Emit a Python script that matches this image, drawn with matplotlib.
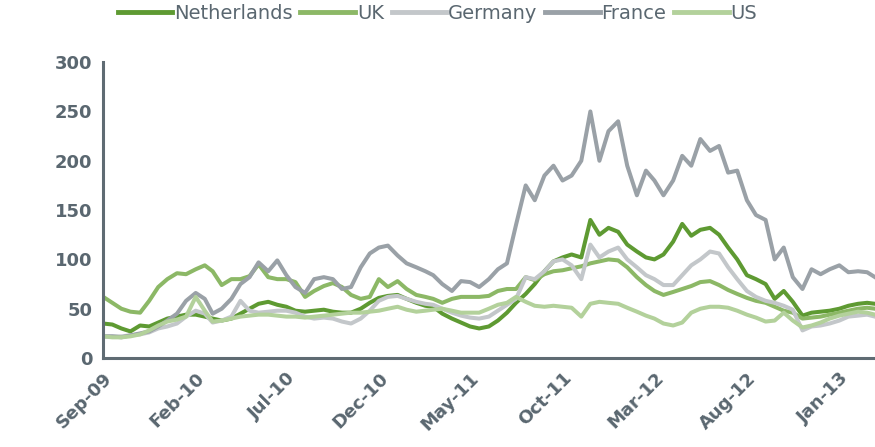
import datetime as dt
import matplotlib
matplotlib.use("Agg")
import matplotlib.pyplot as plt
import matplotlib.dates as mdates

# semi-monthly sample dates, Sep-09 .. Mar-13
dates = []
for i in range(42):
    y = 2009 + (8 + i) // 12
    m = (8 + i) % 12 + 1
    dates.append(dt.date(y, m, 1))
    dates.append(dt.date(y, m, 16))
dates.append(dt.date(2013, 3, 1))

netherlands = [35, 34, 30, 27, 33, 32, 36, 40, 42, 44, 44, 42, 40, 38, 40, 45, 50, 55, 57, 54,
               52, 48, 47, 48, 49, 47, 46, 46, 50, 56, 61, 63, 64, 60, 56, 53, 52, 45, 40, 36,
               32, 30, 32, 38, 46, 56, 65, 75, 88, 98, 102, 105, 102, 140, 125, 132, 128, 115, 108, 102,
               100, 105, 118, 136, 124, 130, 132, 125, 112, 100, 84, 80, 75, 60, 68, 57, 43, 46, 47, 48,
               50, 53, 55, 56, 55]
uk = [62, 56, 50, 47, 46, 58, 72, 80, 86, 85, 90, 94, 88, 74, 80, 80, 83, 95, 82, 80,
      80, 77, 62, 68, 73, 76, 72, 64, 60, 62, 80, 72, 78, 70, 64, 62, 60, 56, 60, 62,
      62, 62, 63, 68, 70, 70, 82, 79, 85, 88, 89, 91, 93, 96, 98, 100, 99, 92, 82, 74,
      68, 64, 67, 70, 73, 77, 78, 74, 69, 65, 61, 58, 56, 52, 48, 46, 40, 41, 42, 44,
      46, 48, 50, 51, 50]
germany = [22, 22, 22, 23, 24, 26, 30, 32, 35, 42, 48, 45, 36, 38, 42, 58, 48, 46, 47, 48,
           48, 46, 42, 40, 41, 40, 37, 35, 40, 48, 58, 62, 63, 60, 57, 55, 54, 50, 46, 43,
           41, 40, 42, 48, 54, 60, 82, 80, 88, 98, 100, 94, 80, 115, 102, 108, 112, 100, 92, 84,
           80, 74, 74, 84, 94, 100, 108, 106, 92, 80, 68, 62, 58, 56, 53, 49, 28, 32, 33, 35,
           38, 42, 43, 44, 42]
france = [22, 22, 21, 23, 25, 27, 32, 38, 45, 58, 66, 60, 45, 50, 60, 75, 82, 97, 88, 99,
          84, 72, 66, 80, 82, 80, 70, 72, 92, 106, 112, 114, 104, 96, 92, 88, 84, 75, 68, 78,
          77, 72, 80, 90, 96, 135, 175, 160, 185, 195, 180, 185, 200, 250, 200, 230, 240, 195, 165, 190,
          180, 165, 180, 205, 195, 222, 210, 215, 188, 190, 160, 145, 140, 100, 112, 82, 70, 90, 85, 90,
          94, 87, 88, 87, 82]
us = [22, 21, 21, 22, 24, 28, 33, 37, 39, 42, 62, 48, 37, 38, 40, 42, 43, 44, 44, 43,
      42, 42, 41, 42, 43, 44, 45, 46, 46, 47, 48, 50, 52, 49, 47, 48, 49, 50, 48, 46,
      46, 46, 50, 54, 56, 62, 57, 53, 52, 53, 52, 51, 42, 55, 57, 56, 55, 51, 47, 43,
      40, 35, 33, 36, 46, 50, 52, 52, 51, 48, 44, 41, 37, 38, 46, 38, 31, 33, 36, 40,
      43, 45, 47, 46, 44]

series = [("Netherlands", netherlands, "#5e9a32"),
          ("UK", uk, "#8cb866"),
          ("Germany", germany, "#c3c7ca"),
          ("France", france, "#9aa1a7"),
          ("US", us, "#b3d19b")]

text_col = "#5a6770"

fig = plt.figure(figsize=(8.75, 4.47), dpi=100)
ax = fig.add_axes([0.118, 0.199, 0.882, 0.662])

for name, vals, col in series:
    ax.plot(dates, vals, color=col, lw=2.9, label=name, solid_joinstyle="round")

ax.set_ylim(0, 300)
ax.set_yticks([0, 50, 100, 150, 200, 250, 300])
ax.set_xlim(dt.date(2009, 9, 1), dt.date(2013, 3, 1))
ticks = [dt.date(2009 + (8 + 5 * i) // 12, (8 + 5 * i) % 12 + 1, 1) for i in range(9)]
ax.set_xticks(ticks)
ax.xaxis.set_major_formatter(mdates.DateFormatter("%b-%y"))

for s in ["top", "right"]:
    ax.spines[s].set_visible(False)
for s in ["left", "bottom"]:
    ax.spines[s].set_color("#5f6b73")
    ax.spines[s].set_linewidth(2.2)

ax.tick_params(length=0, pad=8, labelcolor=text_col, labelsize=13)
for lab in ax.get_yticklabels():
    lab.set_fontweight("bold")
for lab in ax.get_xticklabels():
    lab.set_fontweight("bold")
    lab.set_rotation(45)
    lab.set_ha("right")
    lab.set_rotation_mode("anchor")

leg = fig.legend(loc="upper center", bbox_to_anchor=(0.5, 1.03), ncol=5, frameon=False,
                 fontsize=14, handlelength=2.8, handletextpad=0.1, columnspacing=0.4)
for t in leg.get_texts():
    t.set_color(text_col)
for h in leg.get_lines():
    h.set_linewidth(3.5)

fig.savefig("out.png", dpi=100)
